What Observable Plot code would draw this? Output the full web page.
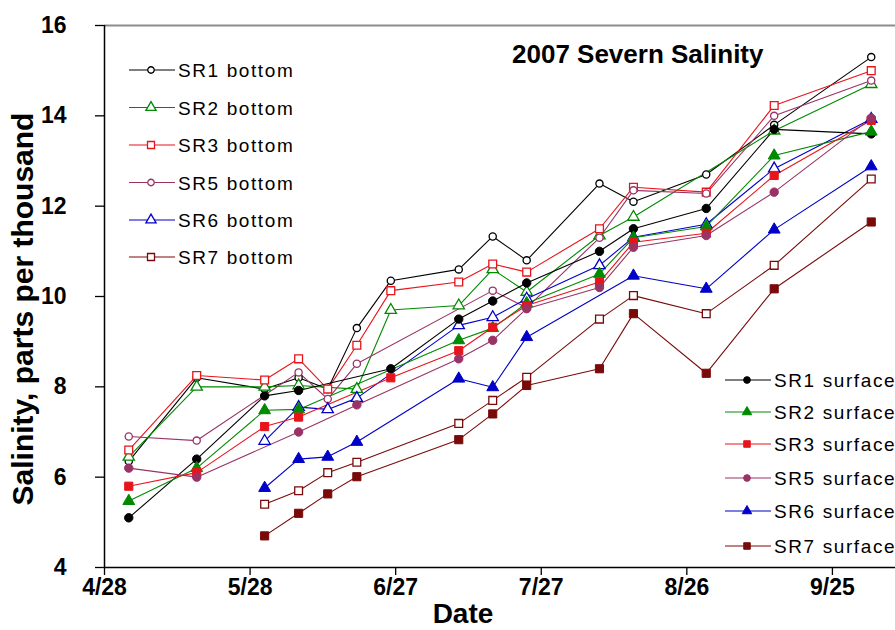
<!DOCTYPE html>
<html>
<head>
<meta charset="utf-8">
<script src="https://cdn.jsdelivr.net/npm/d3@7"></script>
<script src="https://cdn.jsdelivr.net/npm/@observablehq/plot@0.6"></script>
<style>
  html, body { margin: 0; padding: 0; background: #fff; }
  #chart svg { display: block; }
</style>
</head>
<body>
<div id="chart"></div>
<script>
// Sampling dates (2007)
const sampleDates = ["2007-05-03","2007-05-17","2007-05-31","2007-06-07","2007-06-13","2007-06-19","2007-06-26",
  "2007-07-10","2007-07-17","2007-07-24","2007-08-08","2007-08-15","2007-08-30","2007-09-13","2007-10-03"];

// Salinity values (ppt); null = not sampled
const sr1Bottom = [6.35, 8.2, 7.95, 8.2, 7.95, 9.3, 10.35, 10.6, 11.33, 10.8, 12.5, 12.1, 12.7, 13.8, 15.3];
const sr2Bottom = [6.45, 8.0, 8.0, 8.03, null, 7.95, 9.7, 9.8, 10.6, 10.1, 11.35, 11.76, null, 13.67, 14.7];
const sr3Bottom = [6.6, 8.25, 8.15, 8.62, 7.95, 8.92, 10.13, 10.32, 10.72, 10.54, 11.5, 12.42, 12.31, 14.23, 15.0];
const sr5Bottom = [6.9, 6.81, null, 8.32, 7.73, 8.51, null, null, 10.13, 9.75, 11.3, 12.35, 12.28, 14.0, 14.78];
const sr6Bottom = [null, null, 6.8, 7.55, 7.5, 7.75, null, 9.36, 9.54, 9.95, 10.69, 11.31, 11.6, 12.83, 13.93];
const sr7Bottom = [null, null, 5.4, 5.7, 6.1, 6.33, null, 7.19, 7.7, 8.21, 9.5, 10.02, 9.62, 10.69, 12.6];
const sr1Surface = [5.1, 6.4, 7.8, 7.92, null, null, 8.4, 9.5, 9.9, 10.3, 11.0, 11.5, 11.95, 13.7, 13.6];
const sr2Surface = [5.47, 6.2, 7.48, 7.5, null, null, null, 9.03, 9.3, 9.85, 10.5, 11.3, 11.55, 13.12, 13.65];
const sr3Surface = [5.8, 6.1, 7.12, 7.33, null, null, 8.2, 8.8, 9.32, 9.8, 10.32, 11.2, 11.4, 12.68, 13.9];
const sr5Surface = [6.2, 6.0, null, 7.0, null, 7.6, null, 8.62, 9.03, 9.73, 10.2, 11.09, 11.35, 12.31, 13.95];
const sr6Surface = [null, null, 5.76, 6.4, 6.45, 6.78, null, 8.18, 7.99, 9.1, null, 10.46, 10.17, 11.48, 12.88];
const sr7Surface = [null, null, 4.7, 5.2, 5.63, 6.01, null, 6.83, 7.4, 8.03, 8.4, 9.62, 8.3, 10.17, 11.65];

// Series names, colors, symbols
const bottomNames = ["SR1 bottom","SR2 bottom","SR3 bottom","SR5 bottom","SR6 bottom","SR7 bottom"];
const surfaceNames = ["SR1 surface","SR2 surface","SR3 surface","SR5 surface","SR6 surface","SR7 surface"];
const siteColors = ["#000000","#008a00","#e8141c","#993366","#0000c8","#7a0a0a"];
const siteSymbols = ["circle","triangle","square","circle","triangle","square"];

// Axis ticks
const xTickDates = ["2007-04-28","2007-05-28","2007-06-27","2007-07-27","2007-08-26","2007-09-25"];
const yTicks = [4, 6, 8, 10, 12, 14, 16];

const bottomValues = [sr1Bottom, sr2Bottom, sr3Bottom, sr5Bottom, sr6Bottom, sr7Bottom];
const surfaceValues = [sr1Surface, sr2Surface, sr3Surface, sr5Surface, sr6Surface, sr7Surface];

const parse = s => new Date(s + "T00:00:00Z");
const dates = sampleDates.map(parse);

function seriesRows(values) {
  return values.map((v, i) => ({date: dates[i], value: v})).filter(d => d.value != null);
}

const series = [];
bottomNames.forEach((n, k) => series.push({name: n, color: siteColors[k], symbol: siteSymbols[k], open: true, rows: seriesRows(bottomValues[k])}));
surfaceNames.forEach((n, k) => series.push({name: n, color: siteColors[k], symbol: siteSymbols[k], open: false, rows: seriesRows(surfaceValues[k])}));

function symR(s, open) {
  if (s === "circle") return open ? 3.6 : 4.2;
  if (s === "triangle") return open ? 4.2 : 4.4;
  return open ? 4.4 : 4.6;
}

const marks = [];
// frame lines
marks.push(Plot.ruleY([16], {stroke: "#8c8c8c", strokeWidth: 2}));
// data
for (const s of series) {
  marks.push(Plot.line(s.rows, {x: "date", y: "value", stroke: s.color, strokeWidth: 1.1}));
}
for (const s of series) {
  marks.push(Plot.dot(s.rows, {x: "date", y: "value", symbol: s.symbol, r: symR(s.symbol, s.open),
    stroke: s.color, strokeWidth: s.open ? 1.3 : 1, fill: s.open ? "white" : s.color}));
}
marks.push(Plot.ruleX([parse("2007-04-28")], {stroke: "black", strokeWidth: 1.5}));
marks.push(Plot.ruleY([4], {stroke: "black", strokeWidth: 1.5}));
marks.push(Plot.axisY(yTicks, {tickSize: 9, tickPadding: 29, fontSize: 23, fontWeight: "bold", label: null, stroke: "black", strokeWidth: 1.3}));
marks.push(Plot.axisX(xTickDates.map(parse), {tickSize: 8, tickPadding: 3, fontSize: 23, fontWeight: "bold", label: null,
  tickFormat: d => `${d.getUTCMonth() + 1}/${d.getUTCDate()}`, stroke: "black", strokeWidth: 1.3}));

const chart = Plot.plot({
  width: 895, height: 630,
  marginLeft: 104, marginRight: 0, marginTop: 25, marginBottom: 63,
  style: {fontFamily: "'Liberation Sans', Arial, sans-serif", background: "white", color: "black", overflow: "visible"},
  x: {type: "utc", domain: [parse("2007-04-28"), parse("2007-10-08")]},
  y: {domain: [4, 16]},
  marks
});
document.getElementById("chart").appendChild(chart);

// Titles and legends
const svg = d3.select(chart);
const font = "'Liberation Sans', Arial, sans-serif";
svg.append("text").attr("x", 512).attr("y", 63).attr("text-anchor", "start").attr("font-family", font).attr("font-weight", "bold")
  .attr("font-size", 26).attr("fill", "black").text("2007 Severn Salinity");
svg.append("text").attr("x", 463).attr("y", 623).attr("text-anchor", "middle").attr("font-family", font)
  .attr("font-weight", "bold").attr("font-size", 28).attr("fill", "black").text("Date");
svg.append("text").attr("transform", "translate(33,309) rotate(-90)").attr("text-anchor", "middle")
  .attr("font-family", font).attr("font-weight", "bold").attr("font-size", 30).attr("fill", "black")
  .text("Salinity, parts per thousand");

function legend(items, x0, rowsY) {
  items.forEach((s, i) => {
    const g = svg.append("g").attr("transform", `translate(${x0},${rowsY[i]})`);
    g.append("line").attr("x1", 0).attr("x2", 46).attr("y1", 0).attr("y2", 0).attr("stroke", s.color).attr("stroke-width", 1.2);
    const r = symR(s.symbol, s.open) * (s.open ? 0.9 : 0.8);
    const type = s.symbol === "circle" ? d3.symbolCircle : s.symbol === "triangle" ? d3.symbolTriangle : d3.symbolSquare;
    g.append("path").attr("transform", "translate(22,0)").attr("d", d3.symbol(type, Math.PI * r * r)())
      .attr("fill", s.open ? "white" : s.color).attr("stroke", s.color).attr("stroke-width", s.open ? 1.3 : 1);
    g.append("text").attr("x", 49).attr("y", 7).attr("text-anchor", "start").attr("font-family", font).attr("font-size", 19)
      .attr("letter-spacing", 1.6).attr("fill", "black").text(s.name);
  });
}
legend(series.slice(0, 6), 129, [70, 107.5, 145, 182.5, 220, 257]);
legend(series.slice(6), 725, [380, 412, 444, 478, 511, 546]);
</script>
</body>
</html>
